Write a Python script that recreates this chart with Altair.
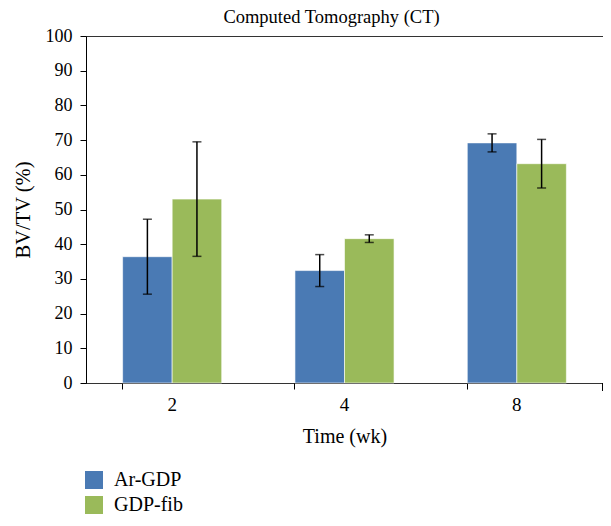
import altair as alt
import pandas as pd

weeks = ["2", "4", "8"]
groups = ["Ar-GDP", "GDP-fib"]
ar_gdp = [36.4, 32.4, 69.2]
gdp_fib = [53.0, 41.6, 63.2]
ar_err = [10.8, 4.6, 2.6]
fib_err = [16.5, 1.1, 7.0]
colors = ["#4a7ab4", "#9aba5a"]
y_ticks = [0, 10, 20, 30, 40, 50, 60, 70, 80, 90, 100]

rows = []
for i, w in enumerate(weeks):
    rows.append({"week": w, "group": groups[0], "value": ar_gdp[i], "err": ar_err[i]})
    rows.append({"week": w, "group": groups[1], "value": gdp_fib[i], "err": fib_err[i]})
df = pd.DataFrame(rows)
df["lo"] = df["value"] - df["err"]
df["hi"] = df["value"] + df["err"]

FONT = "Liberation Serif"
W, H = 517, 347

xscale = alt.Scale(domain=weeks, paddingInner=0.425, paddingOuter=0.2125)
xoff = alt.XOffset("group:N", scale=alt.Scale(domain=groups, paddingInner=0, paddingOuter=0))
yscale = alt.Scale(domain=[0, 100])
yaxis = alt.Axis(title="BV/TV (%)", values=y_ticks, grid=False,
                 tickSize=6, tickColor="#000", domainColor="#000",
                 labelFontSize=18, titleFontSize=20.5,
                 labelPadding=8, titlePadding=12)

base = alt.Chart(df)

bars = base.mark_bar(stroke="white", strokeWidth=0.6).encode(
    x=alt.X("week:N", scale=xscale, sort=weeks,
            axis=alt.Axis(title="Time (wk)", labelAngle=0, ticks=False, domain=True,
                          domainColor="#333", labelPadding=12, titlePadding=12,
                          labelFontSize=19, titleFontSize=20, orient="bottom")),
    xOffset=xoff,
    y=alt.Y("value:Q", scale=yscale, axis=yaxis),
    color=alt.Color("group:N", scale=alt.Scale(domain=groups, range=colors),
                    legend=alt.Legend(title=None, orient="none", legendX=-2, legendY=434,
                                      symbolType="square", symbolSize=324,
                                      symbolStrokeWidth=0, labelFontSize=20,
                                      labelFont=FONT, labelColor="#000",
                                      rowPadding=5, labelOffset=10)),
)

rules = base.mark_rule(color="#000", strokeWidth=1.5).encode(
    x=alt.X("week:N", scale=xscale, sort=weeks,
            axis=alt.Axis(title=None, labels=False, ticks=True, tickSize=6,
                          tickColor="#000", domain=False, bandPosition=0,
                          orient="bottom")),
    xOffset=xoff,
    y=alt.Y("lo:Q", scale=yscale, axis=yaxis),
    y2="hi:Q",
)

caps_hi = base.mark_tick(color="#000", thickness=1.5, size=9).encode(
    x=alt.X("week:N", scale=xscale, sort=weeks, axis=None),
    xOffset=xoff,
    y=alt.Y("hi:Q", scale=yscale, axis=yaxis),
)
caps_lo = base.mark_tick(color="#000", thickness=1.5, size=9).encode(
    x=alt.X("week:N", scale=xscale, sort=weeks, axis=None),
    xOffset=xoff,
    y=alt.Y("lo:Q", scale=yscale, axis=yaxis),
)

edge = alt.Chart(df).mark_rule(color="#000", strokeWidth=1).encode(
    x=alt.value(W), y=alt.value(H), y2=alt.value(H + 8)
)

chart = alt.layer(bars, rules, caps_hi, caps_lo, edge).resolve_axis(
    x="independent"
).properties(
    width=W,
    height=H,
    padding={"left": 78, "top": 28, "right": 0, "bottom": 135},
    autosize=alt.AutoSizeParams(type="none"),
    title=alt.TitleParams("Computed Tomography (CT)", fontSize=18.5, font=FONT,
                          fontWeight="normal", color="#000", offset=1, dx=-13),
).configure_view(
    stroke="#333", strokeWidth=1
).configure_axis(
    labelFont=FONT, titleFont=FONT,
    labelColor="#000", titleColor="#000", titleFontWeight="normal"
)

chart.save("out.html", embed_options={"renderer": "svg", "actions": False})
